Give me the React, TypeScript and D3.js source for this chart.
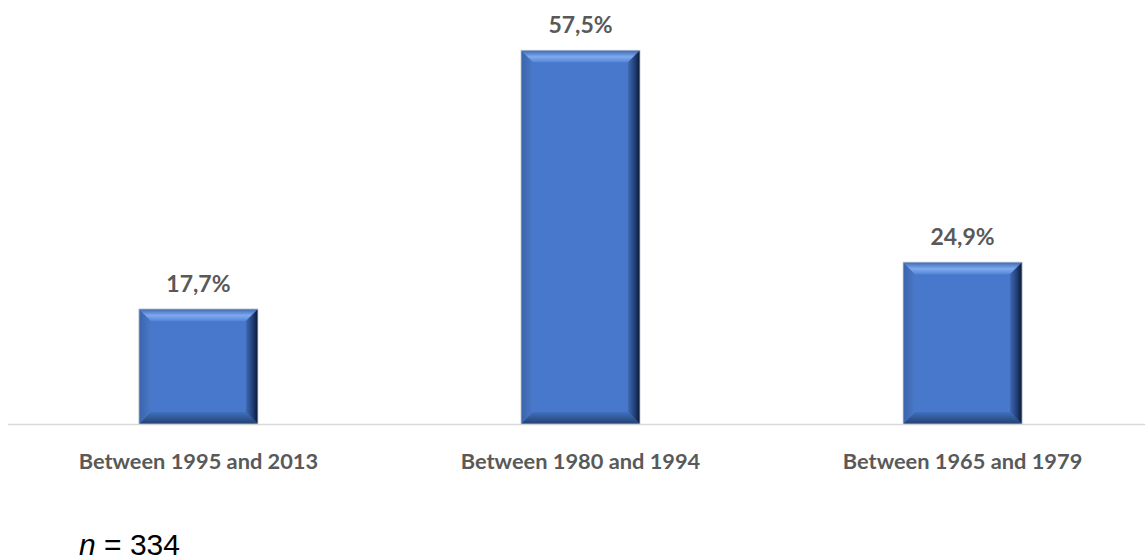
import React from "react";
import * as d3 from "d3";

const categories: string[] = ["Between 1995 and 2013", "Between 1980 and 1994", "Between 1965 and 1979"];
const shares: number[] = [17.7, 57.5, 24.9];
const valueLabels: string[] = ["17,7%", "57,5%", "24,9%"];
const sampleSize = 334;

const WIDTH = 1145;
const HEIGHT = 560;
const BASE_Y = 424;
const TEXT = "#595959";

export default function App() {
  const x = d3
    .scaleBand<string>()
    .domain(categories)
    .range([7.5, 1153.5])
    .paddingInner(0.6885)
    .paddingOuter(0.344);
  const y = d3.scaleLinear().domain([0, 60]).range([BASE_Y, 34]);
  const bw = x.bandwidth();
  const bh = 12; // bevel depth

  const pts = (p: [number, number][]) => p.map((q) => q.join(",")).join(" ");

  return (
    <svg
      width={WIDTH}
      height={HEIGHT}
      style={{ position: "absolute", left: 0, top: 0, background: "#fff" }}
    >
      <defs>
        <linearGradient id="bevTop" x1="0" y1="0" x2="0" y2="1">
          <stop offset="0" stopColor="#3c66b0" />
          <stop offset="0.55" stopColor="#80aaee" />
          <stop offset="1" stopColor="#5686d8" />
        </linearGradient>
        <linearGradient id="bevRight" x1="0" y1="0" x2="1" y2="0">
          <stop offset="0" stopColor="#3f69b4" />
          <stop offset="0.55" stopColor="#22407a" />
          <stop offset="1" stopColor="#0c1730" />
        </linearGradient>
        <linearGradient id="bevBottom" x1="0" y1="0" x2="0" y2="1">
          <stop offset="0" stopColor="#4070c0" />
          <stop offset="1" stopColor="#23406f" />
        </linearGradient>
        <linearGradient id="bevLeft" x1="0" y1="0" x2="1" y2="0">
          <stop offset="0" stopColor="#3a63aa" />
          <stop offset="1" stopColor="#4a79c9" />
        </linearGradient>
      </defs>

      {/* category axis line */}
      <line x1={8} x2={WIDTH} y1={BASE_Y + 0.5} y2={BASE_Y + 0.5} stroke="#d9d9d9" strokeWidth={1.5} />

      {categories.map((c, i) => {
        const x0 = x(c)!;
        const x1 = x0 + bw;
        const y0 = y(shares[i]);
        const y1 = y(0);
        return (
          <g key={c}>
            <rect x={x0} y={y0} width={bw} height={y1 - y0} fill="#4878cc" />
            <polygon
              points={pts([[x0, y0], [x0 + bh, y0 + bh], [x0 + bh, y1 - bh], [x0, y1]])}
              fill="url(#bevLeft)"
            />
            <polygon
              points={pts([[x0, y1], [x1, y1], [x1 - bh, y1 - bh], [x0 + bh, y1 - bh]])}
              fill="url(#bevBottom)"
            />
            <polygon
              points={pts([[x0, y0], [x1, y0], [x1 - bh, y0 + bh], [x0 + bh, y0 + bh]])}
              fill="url(#bevTop)"
            />
            <polygon
              points={pts([[x1, y0], [x1, y1], [x1 - bh, y1 - bh], [x1 - bh, y0 + bh]])}
              fill="url(#bevRight)"
            />
            <rect
              x={x0}
              y={y0}
              width={bw}
              height={y1 - y0}
              fill="none"
              stroke="#c4c9d2"
              strokeWidth={0.8}
            />
            <text
              x={x0 + bw / 2}
              y={y0 - 17}
              textAnchor="middle"
              fontFamily="Lato, sans-serif"
              fontWeight={700}
              fontSize={23}
              fill={TEXT}
            >
              {valueLabels[i]}
            </text>
            <text
              x={x0 + bw / 2}
              y={469}
              textAnchor="middle"
              fontFamily="Lato, sans-serif"
              fontWeight={700}
              fontSize={21.8}
              fill={TEXT}
            >
              {c}
            </text>
          </g>
        );
      })}

      <text x={79} y={555} fontFamily="'Liberation Sans', Arial, sans-serif" fontSize={30} fill="#000">
        <tspan fontStyle="italic">n</tspan>
        <tspan> = {sampleSize}</tspan>
      </text>
    </svg>
  );
}
